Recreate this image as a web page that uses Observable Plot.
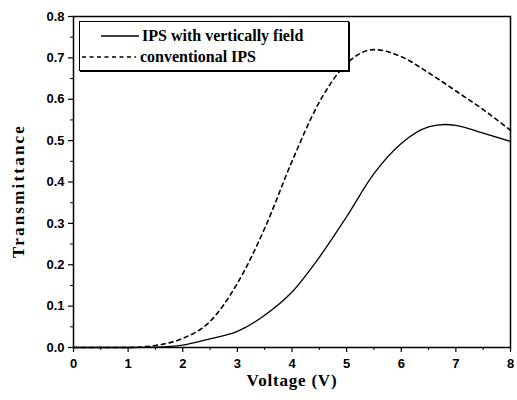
<!DOCTYPE html>
<html>
<head>
<meta charset="utf-8">
<script src="https://cdn.jsdelivr.net/npm/d3@7"></script>
<script src="https://cdn.jsdelivr.net/npm/@observablehq/plot@0.6"></script>
<style>
  html, body { margin: 0; padding: 0; background: #fff; }
  #wrap { position: relative; width: 517px; height: 400px; }
  #legend {
    position: absolute; left: 79px; top: 21px; width: 268px; height: 48px;
    border: 1.5px solid #000; box-shadow: 1px 1px 0 #000; background: #fff;
    font-family: "Liberation Serif", "Times New Roman", serif; font-weight: bold; font-size: 16px;
  }
  .row { position: absolute; left: 0; height: 20px; display: flex; align-items: center; white-space: nowrap; }
  .ytitle text { letter-spacing: 2.2px; }
  .xtitle text { letter-spacing: 0.8px; }
</style>
</head>
<body>
<div id="wrap"></div>
<script>
const voltage = [0, 1, 1.5, 2, 2.5, 3, 3.5, 4, 4.5, 5, 5.5, 6, 6.5, 6.8, 7, 7.5, 8];
const ipsVertical = [0, 0, 0.001, 0.006, 0.021, 0.039, 0.078, 0.134, 0.218, 0.316, 0.42, 0.493, 0.533, 0.539, 0.537, 0.518, 0.498];
const conventional = [0, 0, 0.005, 0.022, 0.063, 0.155, 0.288, 0.45, 0.593, 0.686, 0.72, 0.703, 0.664, 0.638, 0.62, 0.575, 0.525];
const seriesNames = ["IPS with vertically field", "conventional IPS"];
const xMajor = [0, 1, 2, 3, 4, 5, 6, 7, 8];
const xMinor = [0.5, 1.5, 2.5, 3.5, 4.5, 5.5, 6.5, 7.5];
const yMajor = [0, 0.1, 0.2, 0.3, 0.4, 0.5, 0.6, 0.7, 0.8];
const yMinor = [0.05, 0.15, 0.25, 0.35, 0.45, 0.55, 0.65, 0.75];

const rows = voltage.map((v, i) => ({v, a: ipsVertical[i], b: conventional[i]}));

const chart = Plot.plot({
  width: 517, height: 400,
  marginLeft: 73, marginRight: 7, marginTop: 16, marginBottom: 53,
  style: {fontFamily: "Liberation Sans, Arial, sans-serif", fontWeight: "bold", fontSize: "12px", color: "#000", background: "#fff"},
  x: {domain: [0, 8]},
  y: {domain: [0, 0.8]},
  marks: [
    Plot.axisX(xMajor, {tickSize: 5, tickPadding: 6, fontSize: 13, fontWeight: "bold", strokeWidth: 1.2, label: null}),
    Plot.axisX(xMinor, {tickSize: 3, text: null, label: null}),
    Plot.axisY(yMajor, {tickSize: 5, tickPadding: 4, tickFormat: d3.format(".1f"), fontSize: 13, fontWeight: "bold", strokeWidth: 1.2, label: null}),
    Plot.axisY(yMinor, {tickSize: 3, text: null, label: null}),
    Plot.frame({stroke: "#000", strokeWidth: 1.5}),
    Plot.line(rows, {x: "v", y: "b", curve: "monotone-x", stroke: "#000", strokeWidth: 1.6, strokeDasharray: "4,4"}),
    Plot.line(rows, {x: "v", y: "a", curve: "monotone-x", stroke: "#000", strokeWidth: 1.3}),
    Plot.text(["Voltage (V)"], {frameAnchor: "bottom", dy: 38, className: "xtitle", fontFamily: "Liberation Serif, Times New Roman, serif", fontSize: 17, fontWeight: "bold"}),
    Plot.text(["Transmittance"], {frameAnchor: "left", textAnchor: "middle", dx: -55, dy: 9, rotate: -90, className: "ytitle", fontFamily: "Liberation Serif, Times New Roman, serif", fontSize: 17, fontWeight: "bold"})
  ]
});
const wrap = document.getElementById("wrap");
wrap.appendChild(chart);

const legend = document.createElement("div");
legend.id = "legend";
legend.innerHTML = `
  <div class="row" style="top:4px;left:21px"><svg width="38" height="6"><line x1="0" y1="3" x2="38" y2="3" stroke="#000" stroke-width="1.5"/></svg><span style="margin-left:3px">${seriesNames[0]}</span></div>
  <div class="row" style="top:25px;left:2px"><svg width="54" height="6"><line x1="0" y1="3" x2="54" y2="3" stroke="#000" stroke-width="1.5" stroke-dasharray="4,3.5"/></svg><span style="margin-left:4px">${seriesNames[1]}</span></div>`;
wrap.appendChild(legend);
</script>
</body>
</html>
